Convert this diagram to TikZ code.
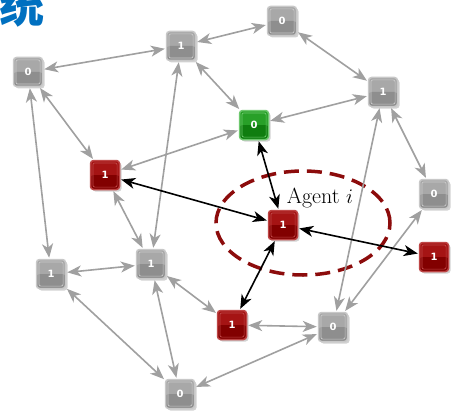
\documentclass[tikz,border=0pt]{standalone}
\usepackage{fontspec}
\newfontfamily\cjkfont{Noto Sans CJK SC}
\newfontfamily\digitfont{DejaVu Sans}
\usetikzlibrary{arrows.meta,shadows,shapes.geometric}

\definecolor{titleblue}{RGB}{0,112,192}
\definecolor{edgegray}{RGB}{160,160,160}
\definecolor{zonered}{RGB}{140,12,12}
% face colours: frame, upper half, lower half
\definecolor{grayframe}{RGB}{200,200,200}
\definecolor{graytop}{RGB}{168,168,168}
\definecolor{graybot}{RGB}{142,142,142}
\definecolor{redframe}{RGB}{190,70,70}
\definecolor{redtop}{RGB}{165,20,20}
\definecolor{redbot}{RGB}{130,0,0}
\definecolor{greenframe}{RGB}{110,200,110}
\definecolor{greentop}{RGB}{40,160,40}
\definecolor{greenbot}{RGB}{15,125,15}

\tikzset{
  agent/.style n args={3}{
    rectangle, rounded corners=3pt, minimum size=29pt, inner sep=0pt,
    line width=1.5pt, draw=#1, fill=#2,
    font=\digitfont\bfseries\fontsize{10}{10}\selectfont, text=white,
    drop shadow={shadow xshift=2pt, shadow yshift=-2pt, opacity=0.35},
    path picture={
      \fill[#3] (path picture bounding box.west) rectangle (path picture bounding box.south east);
      \draw[#1, line width=0.7pt, rounded corners=2pt]
        ([xshift=2.4pt,yshift=2.4pt]path picture bounding box.south west) rectangle
        ([xshift=-2.4pt,yshift=-2.4pt]path picture bounding box.north east);
    }},
  graybox/.style={agent={grayframe}{graytop}{graybot}},
  redbox/.style={agent={redframe}{redtop}{redbot}},
  greenbox/.style={agent={greenframe}{greentop}{greenbot}},
  link/.style={<->, >={Stealth[length=14pt,width=11pt,inset=4pt]},
    line width=1.6pt, draw=edgegray, shorten <=1pt, shorten >=1pt},
  hotlink/.style={link, draw=black},
}

\begin{document}
\begin{tikzpicture}[x=1pt,y=-1pt]
  \useasboundingbox (0,0) rectangle (454,417);
  \clip (0,0) rectangle (454,417);
  \fill[white] (0,0) rectangle (454,417);

  % heading, running off the top-left corner
  \node[anchor=base west, inner sep=0pt, text=titleblue,
        font=\cjkfont\bfseries\fontsize{45}{47}\selectfont] (title) at (-1,23) {统};

  % neighbourhood of agent i
  \node[ellipse, draw=zonered, line width=3.5pt, dash pattern=on 15pt off 8pt,
        minimum width=174pt, minimum height=104pt] (zone) at (303,223) {};
  \node[anchor=base, inner sep=0pt, font=\fontsize{22}{26}\selectfont] (zonelabel)
        at (320,203) {Agent $i$};

  % agents
  \node[graybox]  (A) at (28,72)   {0};
  \node[graybox]  (B) at (181,46)  {1};
  \node[graybox]  (C) at (282,21)  {0};
  \node[graybox]  (D) at (383,92)  {1};
  \node[greenbox] (E) at (254,125) {0};
  \node[redbox]   (F) at (105,175) {1};
  \node[graybox]  (G) at (434,194) {0};
  \node[redbox]   (H) at (283,225) {1};
  \node[redbox]   (I) at (434,257) {1};
  \node[graybox]  (J) at (51,274)  {1};
  \node[graybox]  (K) at (151,264) {1};
  \node[redbox]   (L) at (232,325) {1};
  \node[graybox]  (M) at (333,327) {0};
  \node[graybox]  (N) at (180,394) {0};

  % communication links
  \draw[link] (A) -- (B);
  \draw[link] (B) -- (C);
  \draw[link] (B) -- (E);
  \draw[link] (C) -- (D);
  \draw[link] (E) -- (D);
  \draw[link] (D) -- (G);
  \draw[link] (D) -- (M);
  \draw[link] (G) -- (M);
  \draw[link] (A) -- (J);
  \draw[link] (A) -- (F);
  \draw[link] (B) -- (K);
  \draw[link] (E) -- (F);
  \draw[link] (F) -- (K);
  \draw[link] (J) -- (K);
  \draw[link] (J) -- (N);
  \draw[link] (K) -- (N);
  \draw[link] (K) -- (L);
  \draw[link] (L) -- (M);
  \draw[link] (N) -- (M);

  % links of agent i
  \draw[hotlink] (F) -- (H);
  \draw[hotlink] (E) -- (H);
  \draw[hotlink] (H) -- (I);
  \draw[hotlink] (H) -- (L);
\end{tikzpicture}
\end{document}
